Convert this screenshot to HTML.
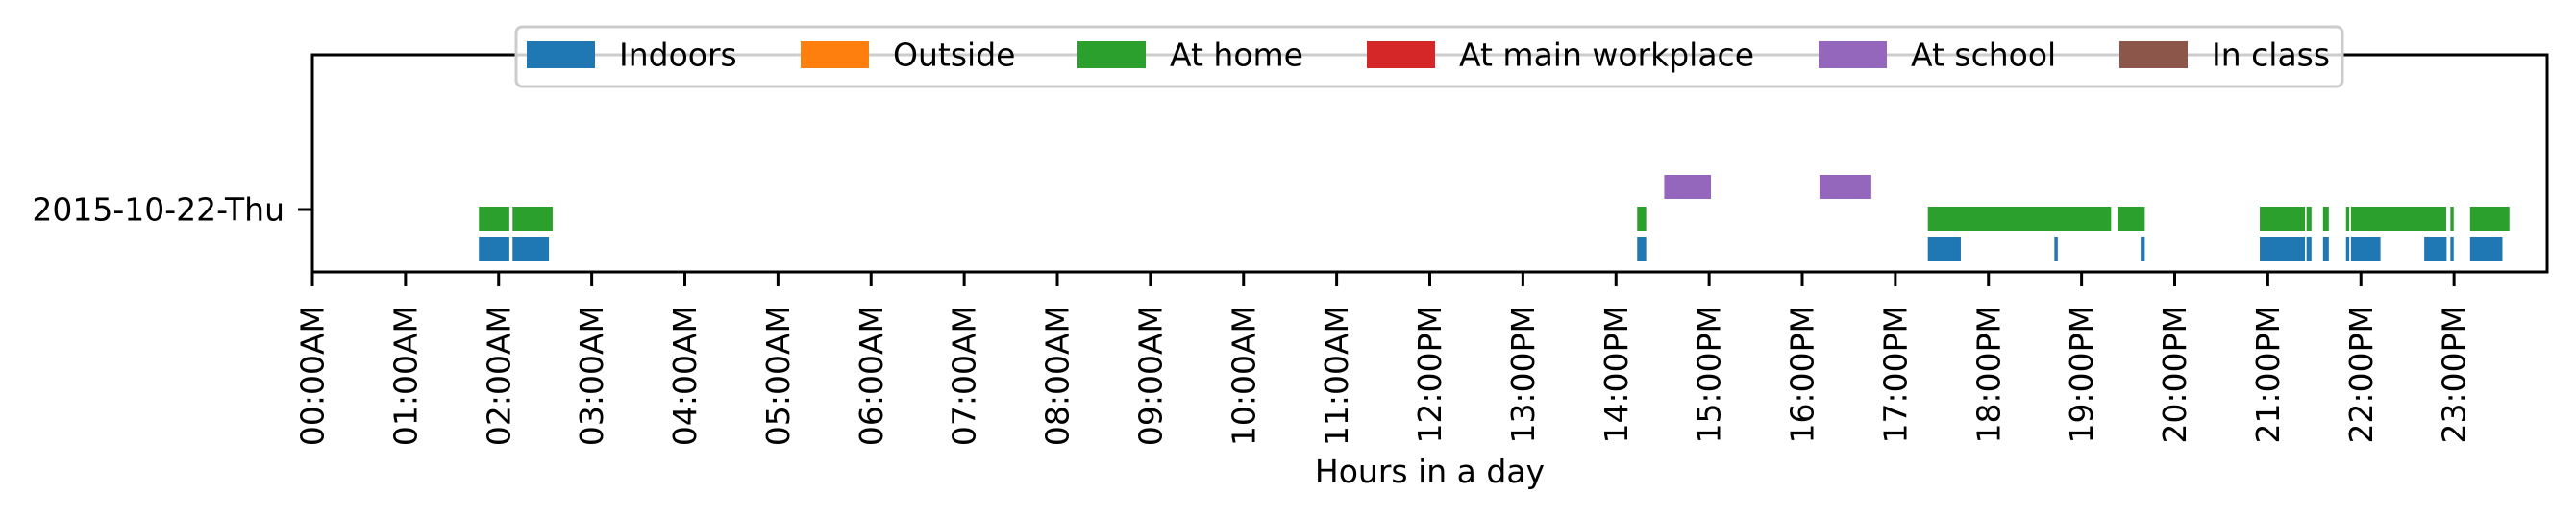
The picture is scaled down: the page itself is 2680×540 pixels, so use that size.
<!DOCTYPE html>
<html><head><meta charset="utf-8"><style>
html,body{margin:0;padding:0;background:#fff;}
svg{display:block;font-family:"DejaVu Sans","Liberation Sans",sans-serif;}
</style></head><body>
<svg id="chart" width="2680" height="540" viewBox="0 0 2680 540" xmlns="http://www.w3.org/2000/svg">
<g id="bars"></g>
<g id="axes"></g>
<g id="legend"></g>
</svg>
<script>
const hourTicks = ["00:00AM","01:00AM","02:00AM","03:00AM","04:00AM","05:00AM","06:00AM","07:00AM","08:00AM","09:00AM","10:00AM","11:00AM","12:00PM","13:00PM","14:00PM","15:00PM","16:00PM","17:00PM","18:00PM","19:00PM","20:00PM","21:00PM","22:00PM","23:00PM"];
const dayLabels = ["2015-10-22-Thu"];
const legendNames = ["Indoors","Outside","At home","At main workplace","At school","In class"];
const legendColors = ["#1f77b4","#ff7f0e","#2ca02c","#d62728","#9467bd","#8c564b"];
// intervals [start hour, end hour]
const indoorsIntervals = [[1.788,2.115],[2.15,2.54],[14.227,14.324],[17.349,17.703],[18.708,18.744],[19.635,19.679],[20.914,21.399],[21.416,21.469],[21.593,21.655],[21.84,21.875],[21.893,22.21],[22.68,22.92],[22.961,22.996],[23.172,23.52]];
const homeIntervals = [[1.788,2.115],[2.15,2.58],[14.227,14.324],[17.349,19.317],[19.388,19.679],[20.914,21.399],[21.416,21.469],[21.593,21.655],[21.84,21.875],[21.893,22.916],[22.961,22.996],[23.172,23.595]];
const schoolIntervals = [[14.518,15.02],[16.185,16.742]];

const NS="http://www.w3.org/2000/svg";
const L=325,R=2650,T=57,B=283;
const FS=33;
const xs=h=>L+(h/24)*(R-L);
function mk(tag,attrs,parent){const e=document.createElementNS(NS,tag);for(const k in attrs)e.setAttribute(k,attrs[k]);parent.appendChild(e);return e;}
const bars=document.getElementById('bars'),axes=document.getElementById('axes'),leg=document.getElementById('legend');

const rows=[{d:indoorsIntervals,c:legendColors[0],y:247,n:'indoors'},{d:homeIntervals,c:legendColors[2],y:215,n:'at-home'},{d:schoolIntervals,c:legendColors[4],y:182,n:'at-school'}];
rows.forEach(r=>{r.d.forEach(iv=>{
  const e=mk('rect',{x:xs(iv[0]),y:r.y,width:Math.max(1,xs(iv[1])-xs(iv[0])),height:25,fill:r.c},bars);
  
  
});});

const frame=mk('rect',{x:L,y:T,width:R-L,height:B-T,fill:'none',stroke:'#000','stroke-width':3},axes);


hourTicks.forEach((t,i)=>{
  const x=xs(i);
  const tk=mk('line',{x1:x,y1:B,x2:x,y2:298,stroke:'#000','stroke-width':3},axes);
  
  
  const tx=mk('text',{x:0,y:0,transform:`translate(${x},318) rotate(-90)`,'text-anchor':'end','dominant-baseline':'central','font-size':FS,fill:'#000'},axes);
  tx.textContent=t;
  
  
});
dayLabels.forEach(d=>{
  const yt=mk('line',{x1:310,y1:218,x2:L,y2:218,stroke:'#000','stroke-width':3},axes);
  
  
  const t=mk('text',{x:296,y:218,'text-anchor':'end','dominant-baseline':'central','font-size':FS,fill:'#000'},axes);
  t.textContent=d;
  
  
});
const xl=mk('text',{x:(L+R)/2,y:502,'text-anchor':'middle','font-size':FS,fill:'#000'},axes);
xl.textContent='Hours in a day';



const lb=mk('rect',{x:537,y:28,width:1900,height:62,rx:6,fill:'#fff','fill-opacity':0.8,stroke:'#cccccc','stroke-width':3},leg);


const patchX=[548,833,1121,1422,1892,2205];
legendNames.forEach((n,i)=>{
  const g=mk('g',{},leg);
  
  
  mk('rect',{x:patchX[i],y:43,width:71,height:28,fill:legendColors[i]},g);
  const t=mk('text',{x:patchX[i]+96,y:57,'dominant-baseline':'central','font-size':FS,fill:'#000'},g);
  t.textContent=n;
});
</script>
</body></html>
